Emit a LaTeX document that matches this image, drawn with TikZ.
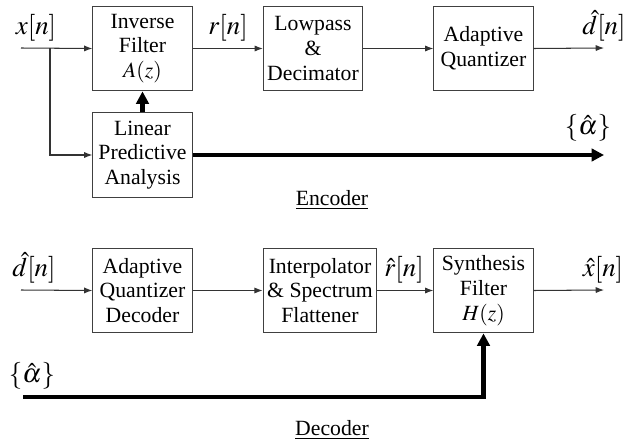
\documentclass[tikz,border=0pt]{standalone}
\usepackage{mathptmx}
\usepackage{fontspec}
\setmainfont{Liberation Serif}
\usetikzlibrary{arrows.meta, positioning}

\begin{document}
\begin{tikzpicture}[
        x=0.017cm, y=-0.017cm,
        font=\rmfamily\fontsize{10.5}{12}\selectfont,
        block/.style={
            draw=black!75,
            line width=0.5pt,
            minimum width=48pt,
            minimum height=41pt,
            inner sep=1pt,
            align=center
        },
        sig/.style={->, >={Latex[length=4pt,width=3pt]}, line width=0.5pt, draw=black!80},
        bus/.style={line width=2.4pt},
        busarrow/.style={bus, -{Triangle[length=6pt,width=6pt]}},
        lbl/.style={inner sep=0pt, font=\fontsize{13}{14}\selectfont}
    ]
        \useasboundingbox (0,0) rectangle (626,442);

        % Encoder blocks
        \node[block] (inv) at (142.5,48.5) {Inverse\\Filter\\$A(z)$};
        \node[block] (lpd) at (313,48.5) {Lowpass\\\&\\Decimator};
        \node[block] (aq) at (483.5,48.5) {Adaptive\\Quantizer};
        \node[block] (lpa) at (142.5,155) {Linear\\Predictive\\Analysis};

        % Encoder ends
        \coordinate (xin) at (21,48);
        \coordinate (split) at (50,48);
        \coordinate (dout) at (604,48);
        \coordinate (aout) at (604,155);

        % Encoder labels
        \node[lbl] (xlbl) at (36,28) {$x[n]$};
        \node[lbl] (rlbl) at (228,28) {$r[n]$};
        \node[lbl] (dlbl) at (604,26) {$\hat{d}[n]$};
        \node[lbl] (albl) at (588,128) {$\{\hat{\alpha}\}$};
        \node (enc) at (332,200) {\underline{Encoder}};

        % Encoder connectors
        \draw[sig] (xin) -- (inv.west);
        \draw[sig] (split) |- (lpa.west);
        \draw[sig] (inv.east) -- (lpd.west);
        \draw[sig] (lpd.east) -- (aq.west);
        \draw[sig] (aq.east) -- (dout);
        \draw[busarrow] (lpa.north) -- (inv.south);
        \draw[busarrow] (lpa.east) -- (aout);

        % Decoder blocks
        \node[block] (aqd) at (142.5,290.5) {Adaptive\\Quantizer\\Decoder};
        \node[block, minimum width=55pt] (itp) at (320,290.5) {Interpolator\\\& Spectrum\\Flattener};
        \node[block] (syn) at (483.5,290.5) {Synthesis\\Filter\\$H(z)$};

        % Decoder ends
        \coordinate (din) at (21,290);
        \coordinate (xout) at (604,290);
        \coordinate (ain) at (23,397);

        % Decoder labels
        \node[lbl] (dinlbl) at (34,268) {$\hat{d}[n]$};
        \node[lbl] (rhlbl) at (404,270) {$\hat{r}[n]$};
        \node[lbl] (xhlbl) at (603,270) {$\hat{x}[n]$};
        \node[lbl] (ainlbl) at (32,376) {$\{\hat{\alpha}\}$};
        \node (dec) at (332,430) {\underline{Decoder}};

        % Decoder connectors
        \draw[sig] (din) -- (aqd.west);
        \draw[sig] (aqd.east) -- (itp.west);
        \draw[sig] (itp.east) -- (syn.west);
        \draw[sig] (syn.east) -- (xout);
        \draw[busarrow] (ain) -| (syn.south);
    \end{tikzpicture}
\end{document}
